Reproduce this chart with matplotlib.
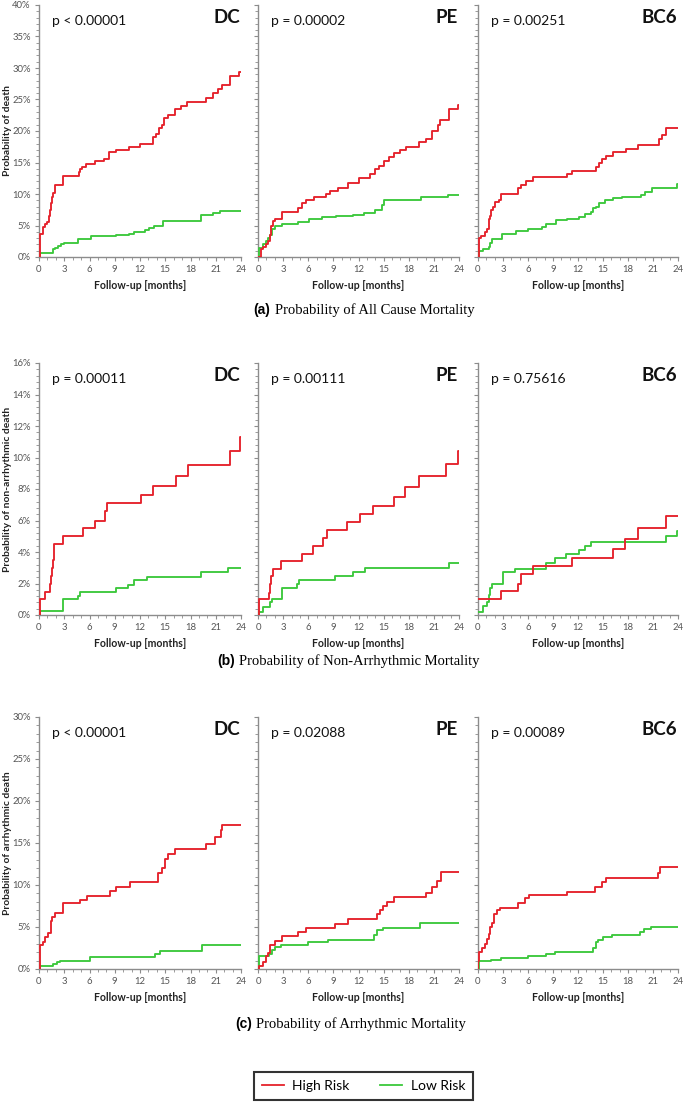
import matplotlib
matplotlib.use("Agg")
import matplotlib.pyplot as plt
from matplotlib.ticker import MultipleLocator, FuncFormatter
from matplotlib.lines import Line2D

# ---------------- data (months, percent) ----------------
a_dc_high_x = [0, 0.15, 0.5, 0.7, 1.0, 1.2, 1.3, 1.4, 1.55, 1.7, 1.9, 2.8, 4.7, 4.9, 5.1, 5.6, 6.6, 7.7, 8.3, 9.1,
               10.7, 12.0, 13.5, 13.9, 14.3, 14.6, 14.9, 15.3, 16.1, 16.9, 17.6, 19.9, 20.7, 21.3, 21.7, 22.7, 23.8, 24]
a_dc_high_y = [0, 3.7, 4.8, 5.2, 5.6, 6.5, 7.5, 8.5, 9.5, 10.2, 11.4, 12.8, 13.5, 14.0, 14.3, 14.8, 15.2, 15.5, 16.6, 17.0,
               17.5, 18.0, 19.0, 19.5, 20.5, 21.0, 22.0, 22.5, 23.5, 24.0, 24.6, 25.3, 26.0, 26.7, 27.3, 28.7, 29.3, 29.3]
a_dc_low_x = [0, 0.1, 1.7, 1.9, 2.2, 2.6, 3.0, 4.6, 4.9, 6.2, 9.1, 10.7, 11.3, 12.6, 13.1, 13.7, 14.7, 19.2, 20.7, 21.5, 24]
a_dc_low_y = [0.3, 0.7, 1.2, 1.5, 1.8, 2.0, 2.3, 2.8, 2.9, 3.3, 3.5, 3.7, 3.9, 4.3, 4.6, 5.0, 5.7, 6.6, 7.0, 7.3, 7.3]

a_pe_high_x = [0, 0.4, 0.6, 0.9, 1.2, 1.4, 1.6, 1.8, 2.0, 2.9, 4.8, 5.2, 5.7, 6.7, 8.1, 8.6, 9.5, 10.7, 12.1, 13.4,
               14.0, 14.5, 15.1, 15.6, 16.2, 17.0, 17.7, 19.2, 20.0, 20.8, 21.5, 21.7, 22.8, 23.9, 24]
a_pe_high_y = [0, 1.3, 1.6, 2.0, 2.6, 3.5, 5.0, 5.7, 6.1, 7.2, 7.7, 8.5, 9.0, 9.5, 10.0, 10.4, 11.0, 11.8, 12.5, 13.2,
               14.0, 14.5, 15.3, 15.8, 16.5, 17.0, 17.5, 18.3, 18.8, 20.0, 21.0, 21.8, 23.5, 24.2, 24.2]
a_pe_low_x = [0, 0.1, 0.6, 0.9, 1.2, 1.4, 1.7, 2.0, 2.9, 4.8, 6.1, 7.6, 9.3, 11.3, 12.7, 14.0, 14.8, 15.1, 19.5, 22.7, 24]
a_pe_low_y = [0, 1.5, 2.0, 2.5, 3.0, 3.5, 4.5, 5.0, 5.3, 5.6, 6.0, 6.3, 6.5, 6.7, 7.0, 7.5, 8.3, 9.1, 9.5, 9.8, 9.8]

a_bc_high_x = [0, 0.1, 0.4, 0.8, 1.1, 1.3, 1.45, 1.6, 1.8, 2.0, 2.5, 2.8, 4.8, 5.1, 5.7, 6.6, 10.7, 11.3, 14.1, 14.5,
               14.9, 15.4, 16.2, 17.7, 19.2, 21.7, 22.1, 22.6, 24]
a_bc_high_y = [0, 3.0, 3.3, 4.0, 4.5, 6.0, 6.5, 7.5, 8.0, 8.8, 9.0, 10.0, 11.0, 11.5, 12.0, 12.7, 13.2, 13.7, 14.3, 15.0,
               15.5, 16.0, 16.6, 17.2, 17.7, 18.7, 19.4, 20.4, 20.4]
a_bc_low_x = [0, 0.1, 0.6, 1.3, 1.5, 1.7, 2.9, 4.6, 6.0, 7.7, 8.2, 9.3, 10.7, 12.1, 12.8, 13.5, 13.8, 14.1, 14.5, 15.2,
              16.2, 17.3, 19.5, 20.0, 20.9, 23.9, 24]
a_bc_low_y = [0, 0.9, 1.2, 1.6, 2.2, 2.8, 3.7, 4.2, 4.4, 4.8, 5.2, 5.8, 6.0, 6.3, 6.8, 7.2, 7.7, 8.0, 8.6, 9.0,
              9.3, 9.5, 9.8, 10.3, 10.9, 11.6, 11.6]

b_dc_high_x = [0, 0.1, 0.7, 1.35, 1.45, 1.55, 1.65, 1.8, 2.9, 5.2, 6.6, 7.8, 8.1, 12.1, 13.6, 16.3, 17.7, 22.7, 23.9, 24]
b_dc_high_y = [0, 1.0, 1.45, 2.0, 2.5, 3.0, 3.5, 4.5, 5.0, 5.5, 6.0, 6.6, 7.1, 7.6, 8.2, 8.8, 9.5, 10.4, 11.3, 11.3]
b_dc_low_x = [0, 0.1, 2.9, 4.6, 4.9, 9.2, 10.6, 11.3, 12.8, 19.3, 22.5, 24]
b_dc_low_y = [0, 0.25, 1.0, 1.2, 1.45, 1.7, 1.9, 2.2, 2.4, 2.7, 3.0, 3.0]

b_pe_high_x = [0, 0.1, 1.3, 1.45, 1.6, 1.8, 2.8, 5.2, 6.6, 7.8, 8.2, 10.6, 12.2, 13.7, 16.2, 17.6, 19.2, 22.5, 23.9, 24]
b_pe_high_y = [0, 1.0, 1.4, 2.0, 2.5, 2.95, 3.45, 3.9, 4.4, 4.9, 5.4, 5.9, 6.4, 6.9, 7.5, 8.1, 8.8, 9.6, 10.4, 10.4]
b_pe_low_x = [0, 0.1, 0.6, 1.4, 1.7, 2.9, 4.6, 4.9, 9.2, 11.4, 12.8, 22.8, 24]
b_pe_low_y = [0, 0.2, 0.5, 0.8, 1.0, 1.7, 2.0, 2.25, 2.45, 2.7, 3.0, 3.3, 3.3]

b_bc_high_x = [0, 2.8, 4.8, 5.1, 6.6, 11.3, 16.2, 17.6, 19.2, 22.5, 24]
b_bc_high_y = [1.0, 1.55, 2.0, 2.6, 3.1, 3.6, 4.2, 4.8, 5.5, 6.3, 6.3]
b_bc_low_x = [0, 0.56, 1.1, 1.3, 1.5, 1.7, 3.0, 4.4, 8.1, 9.2, 10.5, 12.1, 12.8, 13.6, 22.6, 23.9, 24]
b_bc_low_y = [0.2, 0.55, 0.8, 1.3, 1.7, 1.95, 2.7, 2.9, 3.3, 3.6, 3.85, 4.1, 4.4, 4.65, 5.0, 5.35, 5.35]

c_dc_high_x = [0, 0.15, 0.5, 0.7, 1.1, 1.4, 1.6, 1.9, 2.9, 4.9, 5.7, 8.4, 9.2, 10.8, 14.1, 14.6, 15.0, 15.3, 16.2, 19.9,
               20.9, 21.6, 21.8, 24]
c_dc_high_y = [0, 2.8, 3.2, 3.8, 4.3, 5.7, 6.2, 6.7, 7.8, 8.2, 8.7, 9.3, 9.8, 10.3, 11.4, 12.0, 13.1, 13.7, 14.3, 14.9,
               15.7, 16.5, 17.2, 17.2]
c_dc_low_x = [0, 0.1, 1.7, 2.1, 2.5, 6.1, 13.8, 14.4, 19.4, 24]
c_dc_low_y = [0, 0.3, 0.6, 0.8, 1.0, 1.45, 1.8, 2.2, 2.8, 2.8]

c_pe_high_x = [0, 0.15, 0.6, 1.0, 1.2, 1.4, 2.0, 2.9, 4.8, 5.7, 9.2, 10.8, 14.2, 14.6, 14.9, 15.4, 16.2, 20.0, 20.8,
               21.4, 21.8, 24]
c_pe_high_y = [0, 0.4, 0.8, 1.5, 1.9, 2.9, 3.3, 3.9, 4.4, 4.9, 5.4, 5.9, 6.5, 7.0, 7.5, 8.0, 8.6, 9.1, 9.8,
               10.5, 11.5, 11.5]
c_pe_low_x = [0, 0.1, 1.3, 1.7, 2.0, 2.8, 6.0, 8.3, 13.8, 14.2, 14.9, 19.4, 24]
c_pe_low_y = [0, 1.5, 1.8, 2.3, 2.6, 2.9, 3.2, 3.5, 4.0, 4.6, 4.9, 5.5, 5.5]

c_bc_high_x = [0, 0.05, 0.15, 0.5, 0.9, 1.1, 1.3, 1.5, 1.7, 1.9, 2.3, 2.7, 4.8, 5.6, 6.1, 10.7, 14.0, 14.9, 15.4, 21.6,
               21.8, 24]
c_bc_high_y = [0, 1.0, 2.0, 2.5, 3.0, 3.6, 4.2, 5.0, 5.5, 6.5, 7.0, 7.3, 7.8, 8.4, 8.8, 9.2, 9.8, 10.3, 10.8, 11.4,
               12.2, 12.2]
c_bc_low_x = [0, 0.1, 1.6, 2.8, 6.0, 8.2, 9.2, 13.8, 14.1, 14.4, 15.0, 16.1, 19.4, 19.9, 20.8, 24]
c_bc_low_y = [0, 0.9, 1.1, 1.3, 1.5, 1.8, 2.0, 2.5, 3.2, 3.5, 3.8, 4.0, 4.4, 4.8, 5.0, 5.0]

columns = ["DC", "PE", "BC6"]
p_values = [["p < 0.00001", "p = 0.00002", "p = 0.00251"],
            ["p = 0.00011", "p = 0.00111", "p = 0.75616"],
            ["p < 0.00001", "p = 0.02088", "p = 0.00089"]]
y_labels = ["Probability of death", "Probability of non-arrhythmic death", "Probability of arrhythmic death"]
caption_letters = ["(a)", "(b)", "(c)"]
caption_texts = ["Probability of All Cause Mortality", "Probability of Non-Arrhythmic Mortality",
                 "Probability of Arrhythmic Mortality"]
y_max = [40, 16, 30]
y_major = [5, 2, 5]
y_minor = [1, 0.4, 1]
legend_labels = ["High Risk", "Low Risk"]

series = [
    [(a_dc_high_x, a_dc_high_y, a_dc_low_x, a_dc_low_y),
     (a_pe_high_x, a_pe_high_y, a_pe_low_x, a_pe_low_y),
     (a_bc_high_x, a_bc_high_y, a_bc_low_x, a_bc_low_y)],
    [(b_dc_high_x, b_dc_high_y, b_dc_low_x, b_dc_low_y),
     (b_pe_high_x, b_pe_high_y, b_pe_low_x, b_pe_low_y),
     (b_bc_high_x, b_bc_high_y, b_bc_low_x, b_bc_low_y)],
    [(c_dc_high_x, c_dc_high_y, c_dc_low_x, c_dc_low_y),
     (c_pe_high_x, c_pe_high_y, c_pe_low_x, c_pe_low_y),
     (c_bc_high_x, c_bc_high_y, c_bc_low_x, c_bc_low_y)],
]

# ---------------- style / layout ----------------
RED = "#e5222b"
GREEN = "#3cc83c"
AX_COL = "#8c8c8c"
TXT_COL = "#555555"
SANS = "Lato"

W, H = 685, 1104
fig = plt.figure(figsize=(W / 100, H / 100), dpi=100)

col_px = [(39, 241), (258, 459), (478, 678)]
row_px = [(5, 257), (363, 615), (717, 969)]
caption_y = [310, 661, 1024]
caption_cx = [364, 348, 351]
ylabel_px = 8


def fx(px):
    return px / W


def fy(py):
    return 1 - py / H


pct = FuncFormatter(lambda v, p: f"{v:.0f}%")

for r in range(3):
    top, bot = row_px[r]
    for c in range(3):
        left, right = col_px[c]
        ax = fig.add_axes([fx(left), fy(bot), (right - left) / W, (bot - top) / H])
        hx, hy, lx, ly = series[r][c]
        ax.step(lx, ly, where="post", color=GREEN, lw=1.35, zorder=3)
        ax.step(hx, hy, where="post", color=RED, lw=1.35, zorder=4)
        ax.set_xlim(0, 24)
        ax.set_ylim(0, y_max[r])
        ax.xaxis.set_major_locator(MultipleLocator(3))
        ax.xaxis.set_minor_locator(MultipleLocator(1))
        ax.yaxis.set_major_locator(MultipleLocator(y_major[r]))
        ax.yaxis.set_minor_locator(MultipleLocator(y_minor[r]))
        ax.yaxis.set_major_formatter(pct)
        for s in ["top", "right"]:
            ax.spines[s].set_visible(False)
        for s in ["left", "bottom"]:
            ax.spines[s].set_color(AX_COL)
            ax.spines[s].set_linewidth(1.0)
        ax.tick_params(which="major", length=3, width=0.8, color=AX_COL, labelsize=6.8,
                       labelcolor=TXT_COL, pad=3)
        ax.tick_params(which="minor", length=2, width=0.6, color=AX_COL)
        for lab in ax.get_xticklabels() + ax.get_yticklabels():
            lab.set_fontfamily(SANS)
        if c > 0:
            ax.tick_params(axis="y", which="both", labelleft=False)
        else:
            ax.set_ylabel(y_labels[r], fontsize=7.4, fontweight="bold", family=SANS,
                          color="#222222", va="center")
            ax.yaxis.set_label_coords((ylabel_px - left) / (right - left), 0.5)
        ax.set_xlabel("Follow-up [months]", fontsize=7.6, fontweight="bold", family=SANS,
                      color="#222222", labelpad=4)
        ax.text(0.065, 0.937, p_values[r][c], transform=ax.transAxes, fontsize=10,
                family=SANS, color="#111111", ha="left", va="center")
        ax.text(0.995, 0.95, columns[c], transform=ax.transAxes, fontsize=13.5,
                family=SANS, fontweight="bold", color="#111111", ha="right", va="center")

# captions
fig.canvas.draw()
renderer = fig.canvas.get_renderer()
for r in range(3):
    t1 = fig.text(0, fy(caption_y[r]), caption_letters[r], fontsize=10, fontweight="bold",
                  family="Liberation Sans", ha="left", va="center")
    t2 = fig.text(0, fy(caption_y[r]), caption_texts[r], fontsize=10.5,
                  family="Liberation Serif", ha="left", va="center")
    w1 = t1.get_window_extent(renderer).width
    w2 = t2.get_window_extent(renderer).width
    gap = 4
    total = w1 + gap + w2
    x0 = caption_cx[r] - total / 2
    t1.set_x(fx(x0))
    t2.set_x(fx(x0 + w1 + gap))

# legend
handles = [Line2D([], [], color=RED, lw=1.3), Line2D([], [], color=GREEN, lw=1.3)]
leg = fig.legend(handles, legend_labels, loc="center", bbox_to_anchor=(fx(363.5), fy(1086)),
                 ncol=2, frameon=True, fancybox=False, edgecolor="black",
                 prop={"family": SANS, "size": 10}, handlelength=1.6, columnspacing=2.2,
                 handletextpad=0.6, borderpad=0.55, borderaxespad=0)
leg.get_frame().set_linewidth(1.5)

fig.savefig("out.png", dpi=100)
